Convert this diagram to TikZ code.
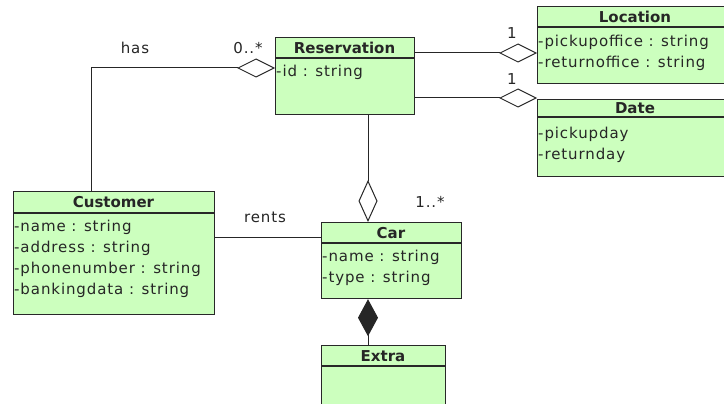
\documentclass[tikz,border=0pt]{standalone}
\usepackage{fontspec}
\setmainfont{DejaVu Sans}
\newfontfamily\attrfont[LetterSpace=6]{DejaVu Sans}
\usetikzlibrary{arrows.meta}
\definecolor{umlfill}{RGB}{204,255,190}
\definecolor{umlline}{RGB}{40,40,40}
\tikzset{
  cls/.style={draw=umlline, fill=umlfill, line width=1.2pt, anchor=north west, inner sep=0pt},
  hdr/.style={font=\fontsize{15}{17}\selectfont\bfseries, text=black!85, inner sep=0pt},
  attr/.style={font=\attrfont\fontsize{15}{17}\selectfont, text=black!85, anchor=west, inner sep=0pt},
  lbl/.style={font=\attrfont\fontsize{15}{17}\selectfont, text=black!85, inner sep=0pt},
  conn/.style={draw=black!85, line width=1pt},
  agg/.style={-{Diamond[open, length=#1, width=19pt, line width=1pt]}},
  comp/.style={-{Diamond[length=#1, width=20pt]}},
}
\begin{document}
\begin{tikzpicture}[x=1pt, y=-1pt]
\useasboundingbox (0,0) rectangle (724,404);
\clip (0,0) rectangle (724,404);
\fill[white] (0,0) rectangle (724,404);

% Reservation
\node[cls, minimum width=139pt, minimum height=77pt] (res) at (275,37) {};
\draw[umlline, line width=1.2pt] (275,58) -- (414,58);
\node[hdr] (resh) at (344.5,47.5) {Reservation};
\node[attr] (resa1) at (276,72) {-id : string};

% Location
\node[cls, minimum width=200pt, minimum height=77pt] (loc) at (537,6) {};
\draw[umlline, line width=1.2pt] (537,27) -- (737,27);
\node[hdr] (loch) at (635,17) {Location};
\node[attr] (loca1) at (538,42.5) {-pickupoffice : string};
\node[attr] (loca2) at (538,63) {-returnoffice : string};

% Date
\node[cls, minimum width=200pt, minimum height=77pt] (date) at (537,99) {};
\draw[umlline, line width=1.2pt] (537,117) -- (737,117);
\node[hdr] (dateh) at (635,108.5) {Date};
\node[attr] (datea1) at (538,134.5) {-pickupday};
\node[attr] (datea2) at (538,155.5) {-returnday};

% Customer
\node[cls, minimum width=201pt, minimum height=123pt] (cus) at (13,191) {};
\draw[umlline, line width=1.2pt] (13,213) -- (214,213);
\node[hdr] (cush) at (113.5,202) {Customer};
\node[attr] (cusa1) at (14,227) {-name : string};
\node[attr] (cusa2) at (14,248.5) {-address : string};
\node[attr] (cusa3) at (14,269.5) {-phonenumber : string};
\node[attr] (cusa4) at (14,290.5) {-bankingdata : string};

% Car
\node[cls, minimum width=140pt, minimum height=76pt] (car) at (321,222) {};
\draw[umlline, line width=1.2pt] (321,243) -- (461,243);
\node[hdr] (carh) at (391,233) {Car};
\node[attr] (cara1) at (322,257) {-name : string};
\node[attr] (cara2) at (322,278.5) {-type : string};

% Extra
\node[cls, minimum width=124pt, minimum height=80pt] (ext) at (321,345) {};
\draw[umlline, line width=1.2pt] (321,366) -- (445,366);
\node[hdr] (exth) at (383,356) {Extra};

% Connectors
\coordinate (hasbend) at (91,68);
\draw[conn, agg=38pt] (cus.north west -| hasbend) -- (hasbend) -- (res.west |- hasbend);
\node[lbl] (has) at (135,48) {has};
\node[lbl] (mhas) at (248,48) {0..*};

\draw[conn, agg=38pt] ([yshift=-16pt]res.north east) -- (loc.west |- {(0,53)});
\node[lbl] (mloc) at (512,33) {1};

\draw[conn, agg=38pt] ([yshift=-61pt]res.north east) -- ([yshift=1pt]date.north west);
\node[lbl] (mdate) at (512,79) {1};

\draw[conn, agg=42pt] (res.south west -| {(368,0)}) -- (car.north west -| {(368,0)});
\node[lbl] (mcar) at (430,202) {1..*};

\draw[conn] (cus.east |- {(0,237)}) -- (car.west |- {(0,237)});
\node[lbl] (rents) at (265,217) {rents};

\draw[conn, comp=37pt] (ext.north west -| {(368,0)}) -- (car.south west -| {(368,0)});
\end{tikzpicture}
\end{document}
